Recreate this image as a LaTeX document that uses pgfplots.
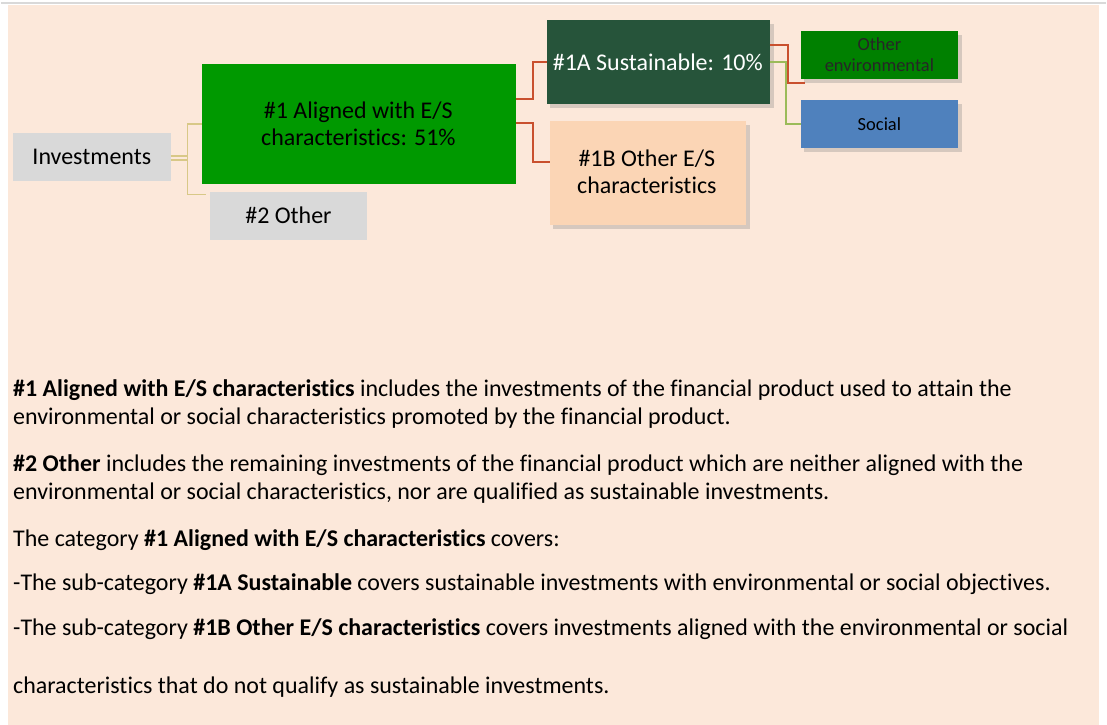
\documentclass[border=0pt]{standalone}
\usepackage{fontspec}
\setmainfont{Carlito}[Ligatures=NoCommon]
\usepackage{pgfplots}
\pgfplotsset{compat=1.18}

\definecolor{bgpeach}{RGB}{252,232,218}
\definecolor{boxgray}{RGB}{217,217,217}
\definecolor{brightgreen}{RGB}{0,153,0}
\definecolor{darkgreen}{RGB}{38,84,58}
\definecolor{lightpeach}{RGB}{251,213,181}
\definecolor{envgreen}{RGB}{0,128,0}
\definecolor{socialblue}{RGB}{79,129,189}
\definecolor{redline}{RGB}{201,80,46}
\definecolor{greenline}{RGB}{155,187,89}
\definecolor{tanline}{RGB}{216,200,135}
\definecolor{shadow}{RGB}{190,180,172}

\begin{document}
\begin{tikzpicture}
\begin{axis}[
    width=1107bp, height=726bp, scale only axis,
    xmin=0, xmax=1107, ymin=0, ymax=726, y dir=reverse,
    hide axis, clip=false,
]
% page and panel
\addplot[fill=white, draw=none] coordinates {(0,0) (1107,0) (1107,726) (0,726)};
\addplot[fill=bgpeach, draw=none] coordinates {(7,5) (1100,5) (1100,726) (7,726)};
\addplot[color=gray!30, line width=2] coordinates {(0,3) (1107,3)};

% shadows
\addplot[fill=shadow, draw=none, opacity=0.6] coordinates {(550,24) (774,24) (774,108) (550,108)};
\addplot[fill=shadow, draw=none, opacity=0.6] coordinates {(553,125) (750,125) (750,229) (553,229)};
\addplot[fill=shadow, draw=none, opacity=0.6] coordinates {(804,35) (963,35) (963,83) (804,83)};
\addplot[fill=shadow, draw=none, opacity=0.6] coordinates {(804,104) (963,104) (963,152) (804,152)};

% boxes
\addplot[fill=boxgray, draw=none] coordinates {(12,133) (170,133) (170,181) (12,181)};
\addplot[fill=boxgray, draw=none] coordinates {(209,192) (367,192) (367,240) (209,240)};
\addplot[fill=brightgreen, draw=none] coordinates {(201,64) (516,64) (516,184) (201,184)};
\addplot[fill=darkgreen, draw=none] coordinates {(547,20) (770,20) (770,104) (547,104)};
\addplot[fill=lightpeach, draw=none] coordinates {(550,121) (746,121) (746,225) (550,225)};
\addplot[fill=envgreen, draw=none] coordinates {(801,31) (959,31) (959,79) (801,79)};
\addplot[fill=socialblue, draw=none] coordinates {(801,100) (959,100) (959,148) (801,148)};

% connectors
\addplot[color=tanline, line width=1.6] coordinates {(170,156.5) (187,156.5)};
\addplot[color=tanline, line width=1.6] coordinates {(170,160) (187,160)};
\addplot[color=tanline, line width=1.6] coordinates {(201,124) (187,124) (187,195) (205,195)};
\addplot[color=redline, line width=2] coordinates {(516,99) (533,99) (533,62) (547,62)};
\addplot[color=redline, line width=2] coordinates {(516,123) (533,123) (533,162) (550,162)};
\addplot[color=redline, line width=2] coordinates {(770,45) (788,45) (788,83) (805,83)};
\addplot[color=greenline, line width=2] coordinates {(770,62) (786,62) (786,124) (801,124)};

% box labels
\node[font=\fontsize{24bp}{27bp}\selectfont] at (axis cs:91,157) {Investments};
\node[font=\fontsize{24bp}{27bp}\selectfont] at (axis cs:288,216) {\#2 Other};
\node[font=\fontsize{24bp}{27bp}\selectfont, align=center] at (axis cs:358,124)
    {\#1 Aligned with E/S\\characteristics: 51\%};
\node[font=\fontsize{24bp}{27bp}\selectfont, text=white] at (axis cs:658,62)
    {\#1A Sustainable: 10\%};
\node[font=\fontsize{24bp}{27bp}\selectfont, align=center] at (axis cs:647,172)
    {\#1B Other E/S\\characteristics};
\node[font=\fontsize{18.5bp}{21bp}\selectfont, align=center, text=black!85] at (axis cs:880,55)
    {Other\\environmental};
\node[font=\fontsize{18.5bp}{21bp}\selectfont] at (axis cs:880,124) {Social};

% explanatory text
\begin{scope}[every node/.style={anchor=base west, inner sep=0pt,
    font=\fontsize{24bp}{28bp}\selectfont}]
\node at (axis cs:12,397) {\textbf{\#1 Aligned with E/S characteristics} includes the investments of the financial product used to attain the};
\node at (axis cs:12,425) {environmental or social characteristics promoted by the financial product.};
\node at (axis cs:12,472) {\textbf{\#2 Other} includes the remaining investments of the financial product which are neither aligned with the};
\node at (axis cs:12,500) {environmental or social characteristics, nor are qualified as sustainable investments.};
\node at (axis cs:12,547) {The category \textbf{\#1 Aligned with E/S characteristics} covers:};
\node at (axis cs:12,592) {-The sub-category \textbf{\#1A Sustainable} covers sustainable investments with environmental or social objectives.};
\node at (axis cs:12,637) {-The sub-category \textbf{\#1B Other E/S characteristics} covers investments aligned with the environmental or social};
\node at (axis cs:12,695) {characteristics that do not qualify as sustainable investments.};
\end{scope}
\end{axis}
\end{tikzpicture}
\end{document}
